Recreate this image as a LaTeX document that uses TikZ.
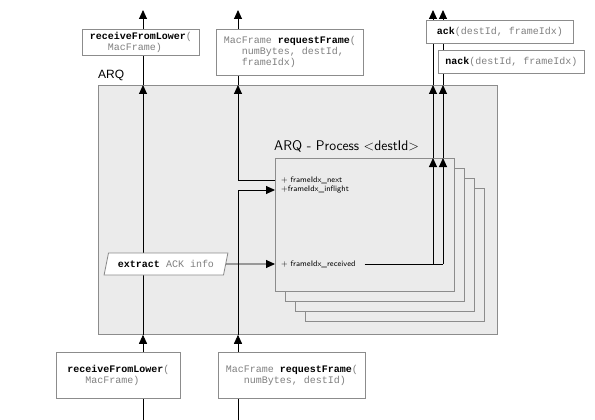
\documentclass[tikz,border=0pt]{standalone}
\usepackage{fontspec}
\usetikzlibrary{arrows.meta,shapes.geometric}
\newfontfamily\codefont{Liberation Mono}
\newfontfamily\labfont{Liberation Sans}
\definecolor{codegray}{HTML}{808080}
\definecolor{boxgray}{HTML}{8C8C8C}
\definecolor{arqfill}{HTML}{EBEBEB}
\newcommand{\fname}[1]{\textcolor{black}{\textbf{#1}}}
\newcommand{\ind}{\hspace*{18pt}}
\begin{document}
\begin{tikzpicture}[x=1pt,y=-1pt,
  codebox/.style={draw=boxgray, fill=white, line width=0.8pt, rectangle, anchor=north west, align=left, inner sep=0pt, font=\codefont\fontsize{10}{11}\selectfont, text=codegray},
  procbox/.style={draw=boxgray, fill=arqfill, line width=0.8pt, anchor=north west, minimum width=179pt, minimum height=133pt, inner sep=0pt},
  conn/.style={line width=0.9pt, draw=black},
  arr/.style={conn, -{Triangle[length=9pt,width=8pt]}},
  attr/.style={anchor=west, font=\sffamily\fontsize{8}{10}\selectfont, inner sep=0pt},
]
\useasboundingbox (0,0) rectangle (595,420);

% coordinates for vertical connector lines
\coordinate (xA) at (143,0);
\coordinate (xB) at (238,0);
\coordinate (xC) at (433,0);
\coordinate (xD) at (443,0);
\coordinate (topY) at (0,10);
\coordinate (botY) at (0,420);

% interface boxes
\node[codebox, minimum width=117pt, minimum height=26pt] (rflT) at (82,29) {\fname{receiveFromLower}(\\\ind MacFrame)};
\node[codebox, minimum width=147pt, minimum height=46pt] (rqT) at (216,29) {MacFrame \fname{requestFrame}(\\\ind numBytes, destId,\\\ind frameIdx)};
\node[codebox, minimum width=147pt, minimum height=23pt] (ack) at (426,20) {\fname{ack}(destId, frameIdx)};
\node[codebox, minimum width=146pt, minimum height=23pt] (nack) at (438,50) {\fname{nack}(destId, frameIdx)};
\node[codebox, minimum width=124pt, minimum height=46pt] (rflB) at (56,352) {\fname{receiveFromLower}(\\\ind MacFrame)};
\node[codebox, minimum width=147pt, minimum height=46pt] (rqB) at (218,352) {MacFrame \fname{requestFrame}(\\\ind numBytes, destId)};

% ARQ container
\node[draw=boxgray, fill=arqfill, line width=0.8pt, anchor=north west, minimum width=399pt, minimum height=249pt, inner sep=0pt] (arq) at (98,85) {};
\node[anchor=base west, inner sep=0pt, font=\labfont\fontsize{12}{14}\selectfont] (arqlab) at (98,79) {ARQ};

% process stack
\node[procbox] (p4) at (305,188) {};
\node[procbox] (p3) at (295,178) {};
\node[procbox] (p2) at (285,168) {};
\node[procbox] (proc) at (275,158) {};
\node[anchor=base west, inner sep=0pt, font=\sffamily\fontsize{14}{16}\selectfont] (proclab) at (274,150) {ARQ - Process \textless destId\textgreater};

\node[attr] (nxt) at (281,180) {+ frameIdx\_next};
\node[attr] (infl) at (281,190) {+frameIdx\_inflight};
\node[attr] (rcvd) at (281,264) {+ frameIdx\_received};
\coordinate (rcvdEnd) at ([xshift=9pt]rcvd.east);

% line A
\draw[conn] (xA |- botY) -- (xA |- rflB.south);
\draw[arr] (xA |- rflB.north) -- (xA |- arq.south);
\draw[arr] (xA |- arq.south) -- (xA |- arq.north);
\draw[conn] (xA |- arq.north) -- (xA |- rflT.south);
\draw[arr] (xA |- rflT.north) -- (xA |- topY);

% extract node
\node[trapezium, trapezium left angle=63.4, trapezium right angle=116.6, trapezium stretches=true, draw=boxgray, fill=white, line width=0.8pt, minimum width=124pt, minimum height=22pt, inner sep=0pt, font=\codefont\fontsize{10}{11}\selectfont, text=codegray] (extract) at (166,264) {\fname{extract} ACK info};
\draw[arr] (extract.east) -- (rcvd.west -| proc.west);

% line B
\draw[conn] (xB |- botY) -- (xB |- rqB.south);
\draw[arr] (xB |- rqB.north) -- (xB |- arq.south);
\draw[arr] (xB |- arq.south) -- (xB |- infl.west) -- (infl.west -| proc.west);
\draw[arr] (nxt.west -| proc.west) -- (xB |- nxt.west) -- (xB |- arq.north);
\draw[conn] (xB |- arq.north) -- (xB |- rqT.south);
\draw[arr] (xB |- rqT.north) -- (xB |- topY);

% lines C, D
\draw[conn] (rcvdEnd) -- (rcvdEnd -| xD);
\draw[arr] (rcvdEnd -| xC) -- (xC |- proc.north);
\draw[arr] (rcvdEnd -| xD) -- (xD |- proc.north);
\draw[arr] (xC |- proc.north) -- (xC |- arq.north);
\draw[arr] (xD |- proc.north) -- (xD |- arq.north);
\draw[conn] (xC |- arq.north) -- (xC |- ack.south);
\draw[conn] (xD |- arq.north) -- (xD |- nack.south);
\draw[conn] (xD |- nack.north) -- (xD |- ack.south);
\draw[arr] (xC |- ack.north) -- (xC |- topY);
\draw[arr] (xD |- ack.north) -- (xD |- topY);
\end{tikzpicture}
\end{document}
